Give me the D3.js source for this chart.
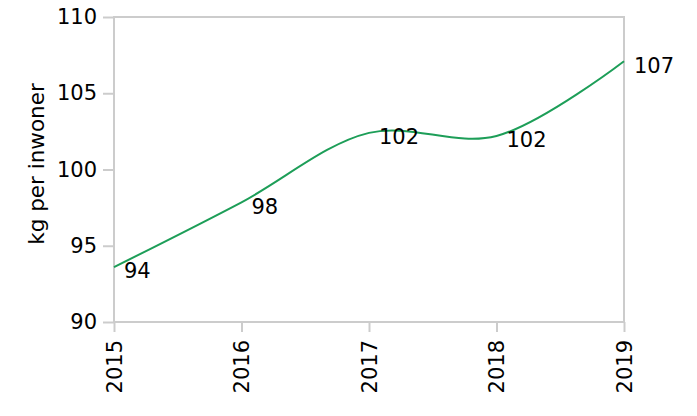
<!DOCTYPE html>
<html><head><meta charset="utf-8">
<script src="https://cdn.jsdelivr.net/npm/d3@7"></script>
<style>body{margin:0;background:#fff}svg{display:block}text{font-family:"DejaVu Sans",Verdana,sans-serif;fill:#000}</style>
</head><body>
<svg id="c" width="697" height="416"></svg>
<script>
const years = [2015, 2016, 2017, 2018, 2019];
const values = [93.6, 97.85, 102.4, 102.2, 107.1];
const labels = ["94", "98", "102", "102", "107"];
const yTicks = [90, 95, 100, 105, 110];
const yTitle = "kg per inwoner";

const svg = d3.select("#c");
const m = {l: 114, r: 73, t: 17, b: 94};
const W = 697, H = 416;
const x = d3.scaleLinear().domain([2015, 2019]).range([m.l, W - m.r]);
const y = d3.scaleLinear().domain([90, 110]).range([H - m.b, m.t]);
const grey = "#cccccc";
const fs = 21;

// frame
svg.append("rect").attr("x", x(2015)).attr("y", y(110))
  .attr("width", x(2019) - x(2015)).attr("height", y(90) - y(110))
  .attr("fill", "none").attr("stroke", grey).attr("stroke-width", 2);

// y axis
const ya = svg.append("g").attr("transform", `translate(${x(2015)},0)`)
  .call(d3.axisLeft(y).tickValues(yTicks).tickSize(11).tickPadding(6).tickFormat(d3.format("d")));
ya.select(".domain").remove();
ya.selectAll("line").attr("stroke", grey).attr("stroke-width", 2);
ya.selectAll("text").style("font-size", fs + "px").attr("fill", "#000");

// x axis
const xa = svg.append("g").attr("transform", `translate(0,${y(90)})`)
  .call(d3.axisBottom(x).tickValues(years).tickSize(10).tickFormat(d3.format("d")));
xa.select(".domain").remove();
xa.selectAll("line").attr("stroke", grey).attr("stroke-width", 2);
xa.selectAll("text").style("font-size", fs + "px").attr("fill", "#000")
  .attr("transform", "rotate(-90)").attr("text-anchor", "end")
  .attr("x", -18).attr("y", 0).attr("dy", "0.35em");

// y title
svg.append("text").attr("transform", `translate(44,164) rotate(-90)`)
  .attr("text-anchor", "middle").style("font-size", "21.5px").text(yTitle);

// line
const pts = years.map((d, i) => [d, values[i]]);
svg.append("path").datum(pts)
  .attr("fill", "none").attr("stroke", "#1d9e58").attr("stroke-width", 2)
  .attr("d", d3.line().x(d => x(d[0])).y(d => y(d[1])).curve(d3.curveCatmullRom));

// labels
svg.selectAll(".lbl").data(pts).join("text").attr("class", "lbl")
  .attr("x", d => x(d[0]) + 10).attr("y", d => y(d[1]) + 4)
  .attr("dy", "0.35em").style("font-size", fs + "px")
  .text((d, i) => labels[i]);
</script>
</body></html>
